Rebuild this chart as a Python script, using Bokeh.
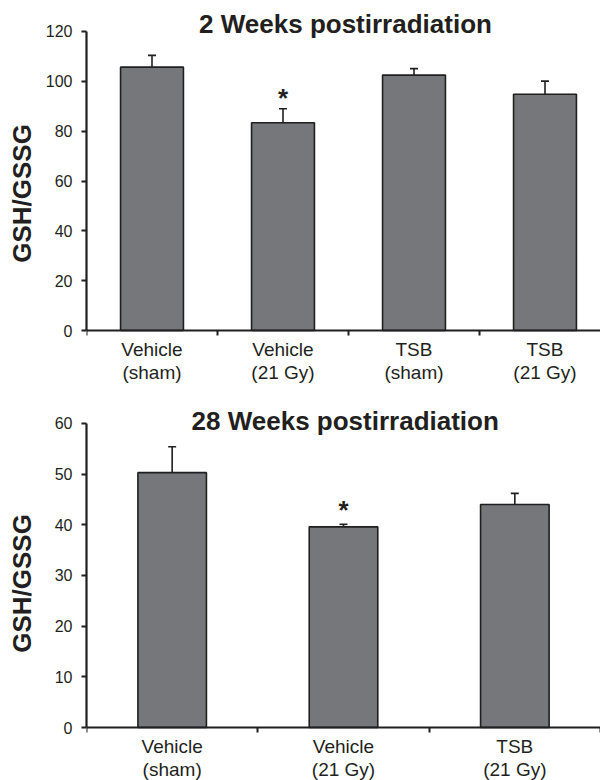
from bokeh.plotting import figure
from bokeh.models import ColumnDataSource, FixedTicker, Whisker, TeeHead, Range1d, Label
from bokeh.layouts import column
from bokeh.embed import file_html
from bokeh.resources import INLINE
from bokeh.core.properties import value

# ---- data ----
groups_2w = ["Vehicle\n(sham)", "Vehicle\n(21 Gy)", "TSB\n(sham)", "TSB\n(21 Gy)"]
means_2w = [105.7, 83.4, 102.5, 94.8]
errors_2w = [4.7, 5.6, 2.6, 5.3]
signif_2w = [False, True, False, False]
yticks_2w = [0, 20, 40, 60, 80, 100, 120]

groups_28w = ["Vehicle\n(sham)", "Vehicle\n(21 Gy)", "TSB\n(21 Gy)"]
means_28w = [50.3, 39.6, 44.0]
errors_28w = [5.1, 0.5, 2.2]
signif_28w = [False, True, False]
yticks_28w = [0, 10, 20, 30, 40, 50, 60]

FONT = "Liberation Sans"
TXT = "#231f20"


def panel(title, groups, means, errors, signif, yticks, y_start, y_end, x_end, bar_w,
          height, title_x, title_y, label_standoff, star_offset):
    n = len(groups)
    xs = [i + 0.5 for i in range(n)]
    src = ColumnDataSource(dict(
        x=xs, top=means, upper=[m + e for m, e in zip(means, errors)]))
    p = figure(width=600, height=height, output_backend="svg", toolbar_location=None,
               x_range=Range1d(0, x_end), y_range=Range1d(y_start, y_end),
               min_border_left=86, min_border_right=0, min_border_top=0,
               min_border_bottom=0)
    p.outline_line_color = None
    p.xgrid.visible = False
    p.ygrid.visible = False
    p.background_fill_color = "white"
    p.border_fill_color = "white"

    p.vbar(x="x", top="top", width=bar_w, bottom=0, source=src,
           fill_color="#76777b", line_color="#1f1f1f", line_width=1.6)
    p.add_layout(Whisker(base="x", lower="top", upper="upper", source=src,
                         line_color="#1f1f1f", line_width=1.6, lower_head=None,
                         upper_head=TeeHead(size=8, line_color="#1f1f1f", line_width=1.6)))
    sx = [x for x, s in zip(xs, signif) if s]
    sy = [u for u, s in zip(src.data["upper"], signif) if s]
    p.text(x=sx, y=sy, text=["*"] * len(sx), text_align="center",
           text_baseline="alphabetic", text_font=value(FONT), text_font_style="bold",
           text_font_size="26px", text_color=TXT, y_offset=star_offset)

    p.add_layout(Label(x=title_x, y=title_y, text=title, text_align="center",
                       text_baseline="middle", text_font=FONT, text_font_style="bold",
                       text_font_size="26px", text_color=TXT))

    # x axis, pinned at zero
    xa = p.xaxis[0]
    xa.fixed_location = 0
    xa.ticker = FixedTicker(ticks=xs, minor_ticks=list(range(n + 1)))
    xa.major_label_overrides = {x: g for x, g in zip(xs, groups)}
    xa.major_tick_out = 0
    xa.major_tick_in = 0
    xa.minor_tick_out = 5
    xa.minor_tick_in = 0
    xa.minor_tick_line_width = 2
    xa.minor_tick_line_color = "#1f1f1f"
    xa.axis_line_width = 2.2
    xa.axis_line_color = "#1f1f1f"
    xa.major_label_text_font = FONT
    xa.major_label_text_font_size = "19px"
    xa.major_label_text_line_height = 1.1
    xa.major_label_text_color = TXT
    xa.major_label_standoff = 3

    ya = p.yaxis[0]
    ya.ticker = FixedTicker(ticks=yticks)
    ya.bounds = (0, yticks[-1])
    ya.minor_tick_out = 0
    ya.minor_tick_in = 0
    ya.major_tick_out = 5
    ya.major_tick_in = 0
    ya.major_tick_line_width = 1.8
    ya.major_tick_line_color = "#1f1f1f"
    ya.axis_line_width = 2.2
    ya.axis_line_color = "#1f1f1f"
    ya.major_label_text_font = FONT
    ya.major_label_text_font_size = "16px"
    ya.major_label_text_color = TXT
    ya.major_label_standoff = 9
    ya.axis_label = "GSH/GSSG"
    ya.axis_label_text_font = FONT
    ya.axis_label_text_font_style = "bold"
    ya.axis_label_text_font_size = "26px"
    ya.axis_label_text_color = TXT
    ya.axis_label_standoff = label_standoff
    return p


p1 = panel("2 Weeks postirradiation", groups_2w, means_2w, errors_2w, signif_2w,
           yticks_2w, -22.47, 132.44, 514 / 131, 0.48, 386, 1.977, 123.2, 6, -11)
p2 = panel("28 Weeks postirradiation", groups_28w, means_28w, errors_28w, signif_28w,
           yticks_28w, -10.46, 67.3, 3.0, 0.40, 394, 1.51, 60.4, 15, -14)

layout = column(p1, p2, spacing=0)
open("out.html", "w").write(file_html(layout, INLINE))
